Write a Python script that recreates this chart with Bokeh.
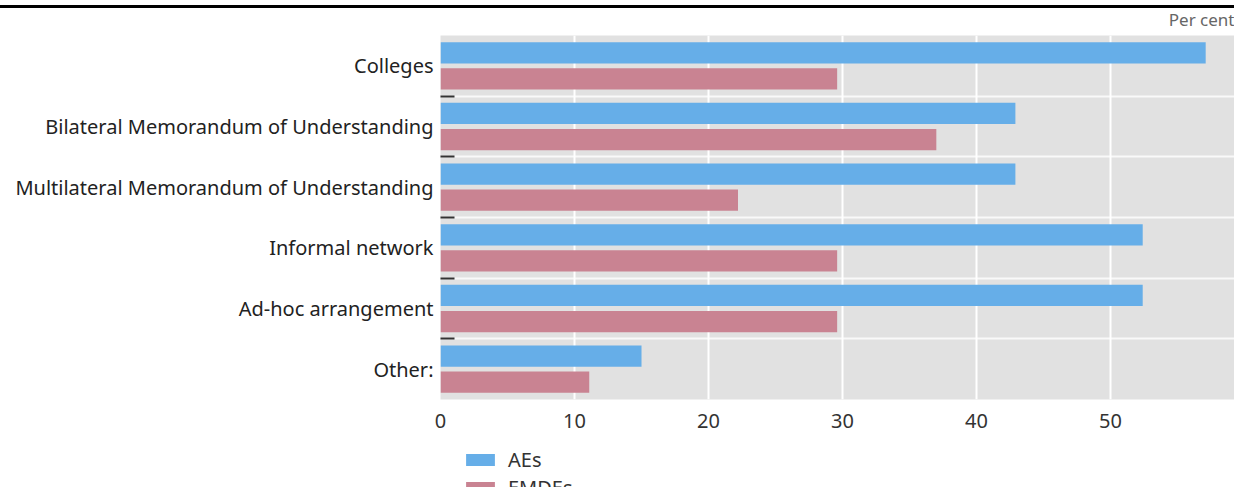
from bokeh.plotting import figure
from bokeh.models import (Range1d, FixedTicker, Legend, LegendItem, ColumnDataSource)
from bokeh.layouts import column
from bokeh.embed import file_html
from bokeh.resources import INLINE

categories = ["Colleges", "Bilateral Memorandum of Understanding",
              "Multilateral Memorandum of Understanding", "Informal network",
              "Ad-hoc arrangement", "Other:"]
aes = [57.1, 42.9, 42.9, 52.4, 52.4, 15.0]
emdes = [29.6, 37.0, 22.2, 29.6, 29.6, 11.1]
x_ticks = [0, 10, 20, 30, 40, 50]
series = ["AEs", "EMDEs"]
colors = ["#66AEE8", "#C98392"]

n = len(categories)
centers = [n - 1 - i for i in range(n)]
boundaries = [c + 0.5 for c in centers[1:]]

src = ColumnDataSource(dict(
    y_ae=[c + 0.215 for c in centers],
    y_em=[c - 0.215 for c in centers],
    aes=aes, emdes=emdes))

FONT = "Noto Sans"
W = 1234
MAIN_H = 444
LH = 43

p = figure(width=W, height=MAIN_H, output_backend="svg", toolbar_location=None,
           x_range=Range1d(0, 59.25), y_range=Range1d(-0.5, n - 0.5),
           min_border_left=440, min_border_right=0, min_border_top=0,
           min_border_bottom=45, background_fill_color="#E1E1E1",
           border_fill_alpha=0, outline_line_color=None)
p.styles = {"background": "linear-gradient(to bottom, #ffffff 0px, #ffffff 5px, "
                          "#000000 5px, #000000 8px, #ffffff 8px, #ffffff 100%)"}

p.hbar(y="y_ae", right="aes", left=0, height=0.35, source=src,
       color=colors[0], line_color=None)
p.hbar(y="y_em", right="emdes", left=0, height=0.35, source=src,
       color=colors[1], line_color=None)

p.title.text = "Per cent"
p.title.align = "right"
p.title.text_font = FONT
p.title.text_font_size = "17px"
p.title.text_font_style = "normal"
p.title.text_color = "#666666"
p.title.standoff = 10

# x axis
p.xaxis.ticker = FixedTicker(ticks=x_ticks)
p.xaxis.axis_line_color = None
p.xaxis.major_tick_line_color = None
p.xaxis.major_tick_out = 0
p.xaxis.minor_tick_line_color = None
p.xaxis.major_label_text_font = FONT
p.xaxis.major_label_text_font_size = "20px"
p.xaxis.major_label_text_color = "#333333"
p.xaxis.major_label_standoff = 14

# y axis
p.yaxis.ticker = FixedTicker(ticks=centers, minor_ticks=boundaries)
p.yaxis.major_label_overrides = {c: cat for c, cat in zip(centers, categories)}
p.yaxis.axis_line_color = None
p.yaxis.major_tick_line_color = None
p.yaxis.major_tick_out = 0
p.yaxis.major_tick_in = 0
p.yaxis.minor_tick_line_color = "#333333"
p.yaxis.minor_tick_line_width = 2
p.yaxis.minor_tick_in = 14
p.yaxis.minor_tick_out = 0
p.yaxis.major_label_text_font = FONT
p.yaxis.major_label_text_font_size = "20px"
p.yaxis.major_label_text_color = "#222222"
p.yaxis.major_label_standoff = 7

# grids
p.xgrid.ticker = FixedTicker(ticks=x_ticks[1:])
p.xgrid.grid_line_color = "white"
p.xgrid.grid_line_width = 2
p.ygrid.ticker = FixedTicker(ticks=boundaries)
p.ygrid.grid_line_color = "white"
p.ygrid.grid_line_width = 2
p.ygrid.grid_line_alpha = 0.8

# legend strip below the chart (its bars sit outside its visible range)
pl = figure(width=W, height=LH, output_backend="svg", toolbar_location=None,
            x_range=Range1d(0, 59.25), y_range=Range1d(n + 1, n + 2),
            min_border_left=0, min_border_right=0, min_border_top=0,
            min_border_bottom=0, outline_line_color=None,
            background_fill_alpha=0, border_fill_alpha=0)
pl.axis.visible = False
pl.grid.visible = False
items = []
for name, col, field in zip(series, colors, ["aes", "emdes"]):
    r = pl.hbar(y="y_ae", right=field, left=0, height=0.35, source=src,
                color=col, line_color=None)
    items.append(LegendItem(label=name, renderers=[r]))

legend = Legend(items=items, location=(22, LH - 57), orientation="vertical",
                glyph_width=36, glyph_height=15, label_standoff=10,
                spacing=1, padding=0, margin=0, border_line_color=None,
                background_fill_alpha=0, label_text_font=FONT,
                label_text_font_size="20px", label_text_color="#333333")
pl.add_layout(legend)

layout = column(p, pl, spacing=0)
open("out.html", "w").write(file_html(layout, INLINE))
